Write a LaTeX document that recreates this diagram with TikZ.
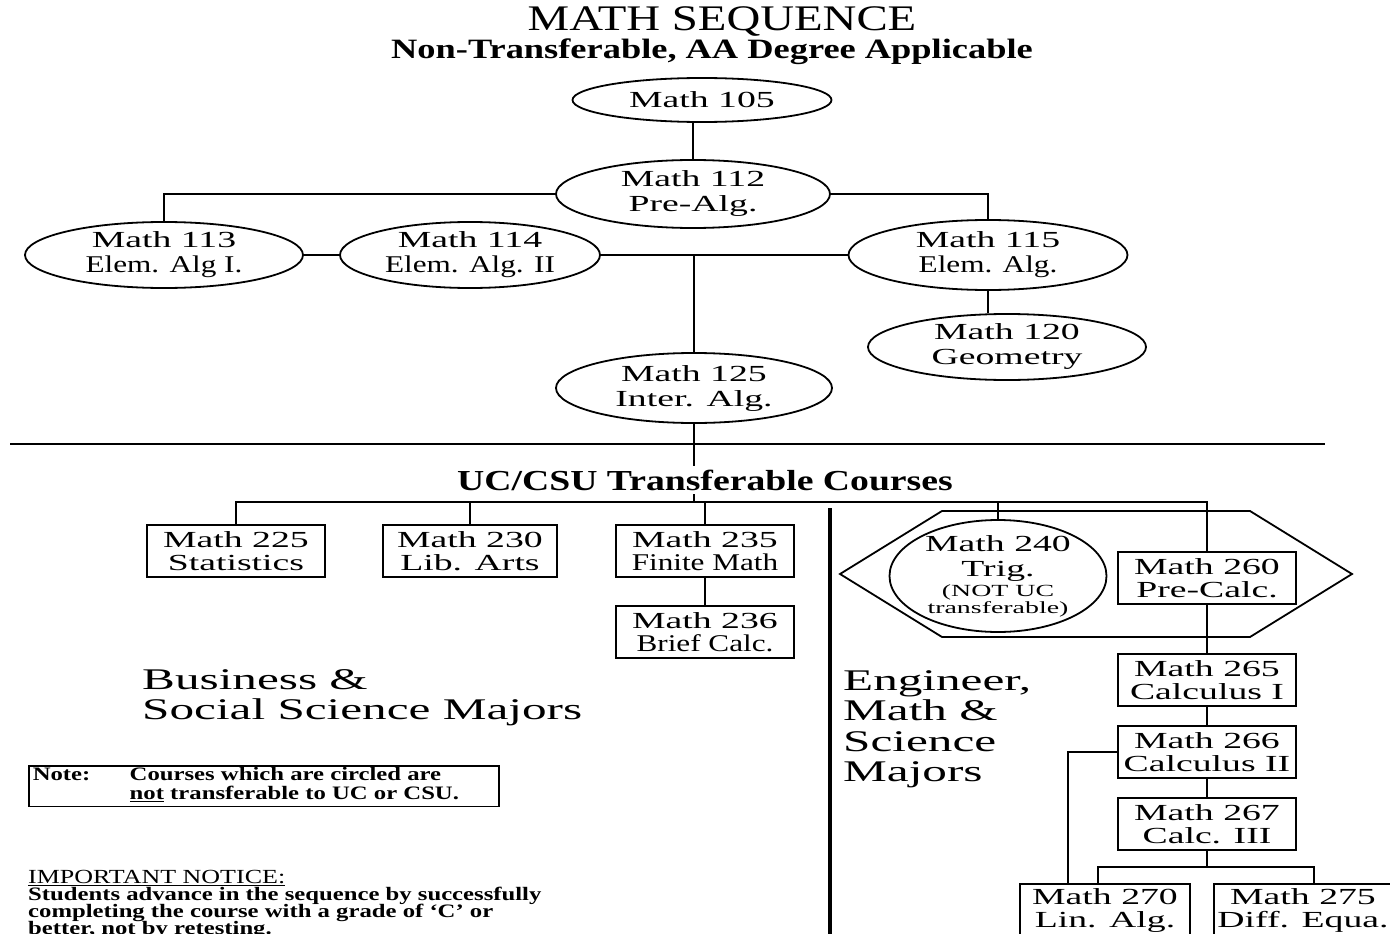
\documentclass[tikz,border=0pt]{standalone}
\usepackage{fontspec}
\setmainfont{Liberation Serif}[FakeStretch=1.3]
\newfontfamily\bk{Liberation Serif}[FakeStretch=1.64]
\usetikzlibrary{shapes.geometric}

\newcommand\smline{\rmfamily\fontsize{24}{25}\selectfont}
\newcommand\tinyline{\bk\fontsize{17}{16}\selectfont}
\newcommand\tightskip{\lineskiplimit=-50pt\relax}

\tikzset{
  ln/.style={line width=1.8pt},
  oval/.style={ellipse, draw, line width=1.8pt, inner xsep=0pt, inner ysep=-3pt,
    align=center, font=\bk\fontsize{23}{25}\selectfont\tightskip},
  crs/.style={rectangle, draw, line width=1.8pt, inner sep=0pt, minimum width=178pt,
    minimum height=52pt, align=center, font=\bk\fontsize{23}{23}\selectfont\tightskip},
  major/.style={anchor=north west, align=left, inner sep=0pt,
    font=\bk\fontsize{30}{30.5}\selectfont\tightskip},
}

\begin{document}
\begin{tikzpicture}[x=1pt,y=-1pt]
        \useasboundingbox (0,0) rectangle (1390,934);

        % Titols
        \node[anchor=base, inner sep=0pt, text depth=0pt, font=\fontsize{36}{36}\selectfont] (title) at (722,31) {MATH SEQUENCE};
        \node[anchor=base, inner sep=0pt, font=\bfseries\fontsize{28}{28}\selectfont] (subtitle) at (712,59) {Non-Transferable, AA Degree Applicable};

        % Cursos no transferibles (ovals)
        \node[oval, minimum width=259pt, minimum height=44pt] (m105) at (702,100) {Math 105};
        \node[oval, minimum width=274pt, minimum height=68pt] (m112) at (693,194) {Math 112\\Pre-Alg.};
        \node[oval, minimum width=278pt, minimum height=66pt] (m113) at (164,255) {Math 113\\{\smline Elem. Alg I.}};
        \node[oval, minimum width=260pt, minimum height=66pt] (m114) at (470,255) {Math 114\\{\smline Elem. Alg. II}};
        \node[oval, minimum width=279pt, minimum height=70pt] (m115) at (988,255) {Math 115\\{\smline Elem. Alg.}};
        \node[oval, minimum width=278pt, minimum height=66pt] (m120) at (1007,347) {Math 120\\Geometry};
        \node[oval, minimum width=276pt, minimum height=70pt] (m125) at (694,388) {Math 125\\Inter. Alg.};

        \draw[ln] (m112.north) -- (m112.north |- m105.south);
        \draw[ln] (m112.west) -| (m113.north);
        \draw[ln] (m112.east) -| (m115.north);
        \draw[ln] (m113.east) -- (m114.west);
        \draw[ln] (m114.east) -- (m115.west);
        \draw[ln] (m125.north) -- (m125.north |- m114.east);
        \draw[ln] (m115.south) -- (m115.south |- m120.north);

        % Linia divisoria
        \draw[line width=2.6pt] (10,444) -- (1325,444);
        \node[font=\bfseries\fontsize{29}{29}\selectfont, inner sep=3pt] (uc) at (705,480) {UC/CSU Transferable Courses};
        \draw[ln] (m125.south) -- (m125.south |- uc.north);
        \coordinate (br) at (694,502);
        \draw[ln] (br) -- (br |- uc.south);

        % Business & Social Science
        \node[crs] (m225) at (236,551) {Math 225\\Statistics};
        \node[crs, minimum width=174pt] (m230) at (470,551) {Math 230\\Lib. Arts};
        \node[crs] (m235) at (705,551) {Math 235\\{\smline Finite Math}};
        \node[crs] (m236) at (705,632) {Math 236\\{\smline Brief Calc.}};
        \draw[ln] (m235.south) -- (m236.north);

        % Engineer, Math & Science
        \draw[ln] (840,574) -- (942,511) -- (1250,511) -- (1352,574) -- (1250,637) -- (942,637) -- cycle;
        \node[oval, minimum width=217pt, minimum height=112pt] (m240) at (998,576)
            {Math 240\\Trig.\\[-5pt]{\tinyline (NOT UC}\\[-8pt]{\tinyline transferable)}};
        \node[crs] (m260) at (1207,578) {Math 260\\Pre-Calc.};
        \node[crs] (m265) at (1207,680) {Math 265\\Calculus I};
        \node[crs] (m266) at (1207,752) {Math 266\\Calculus II};
        \node[crs] (m267) at (1207,824) {Math 267\\Calc. III};
        \node[crs, minimum width=170pt] (m270) at (1105,910) {Math 270\\Lin. Alg.};
        \node[crs] (m275) at (1303,910) {Math 275\\Diff. Equa.};

        \draw[ln] (m225.north) |- (br) -| (m260.north);
        \draw[ln] (m230.north) -- (m230.north |- br);
        \draw[ln] (m235.north) -- (m235.north |- br);
        \draw[ln] (m240.north) -- (m240.north |- br);
        \draw[ln] (m260.south) -- (m265.north);
        \draw[ln] (m265.south) -- (m266.north);
        \draw[ln] (m266.south) -- (m267.north);
        \coordinate (split) at (1207,867);
        \draw[ln] (m267.south) -- (split);
        \draw[ln] ([xshift=-7pt]m270.north) |- (split) -| ([xshift=11pt]m275.north);
        \draw[ln] (m266.west) -| ([xshift=-37pt]m270.north);

        \draw[line width=3.5pt] (830,508) -- (830,940);

        % Etiquetes i notes
        \node[major] (bus) at (142,669) {Business \&\\Social Science Majors};
        \node[major] (eng) at (843,670) {Engineer,\\Math \&\\Science\\Majors};
        \node[draw, line width=1.5pt, anchor=north west, inner xsep=4pt, inner ysep=2pt, minimum width=470pt,
              minimum height=40pt, font=\bfseries\fontsize{19}{17}\selectfont] (note) at (28,765)
            {\begin{tabular}{@{}p{97pt}@{}p{365pt}@{}}Note: & Courses which are circled are\\ & \underline{not} transferable to UC or CSU.\end{tabular}};
        \node[anchor=north west, align=left, inner sep=0pt, font=\bfseries\fontsize{19}{17}\selectfont\tightskip] (notice) at (28,870)
            {{\mdseries\fontsize{20}{17}\selectfont\underline{IMPORTANT NOTICE:}}\\Students advance in the sequence by successfully\\completing the course with a grade of ‘C’ or\\better, not by retesting.};
    \end{tikzpicture}
\end{document}
